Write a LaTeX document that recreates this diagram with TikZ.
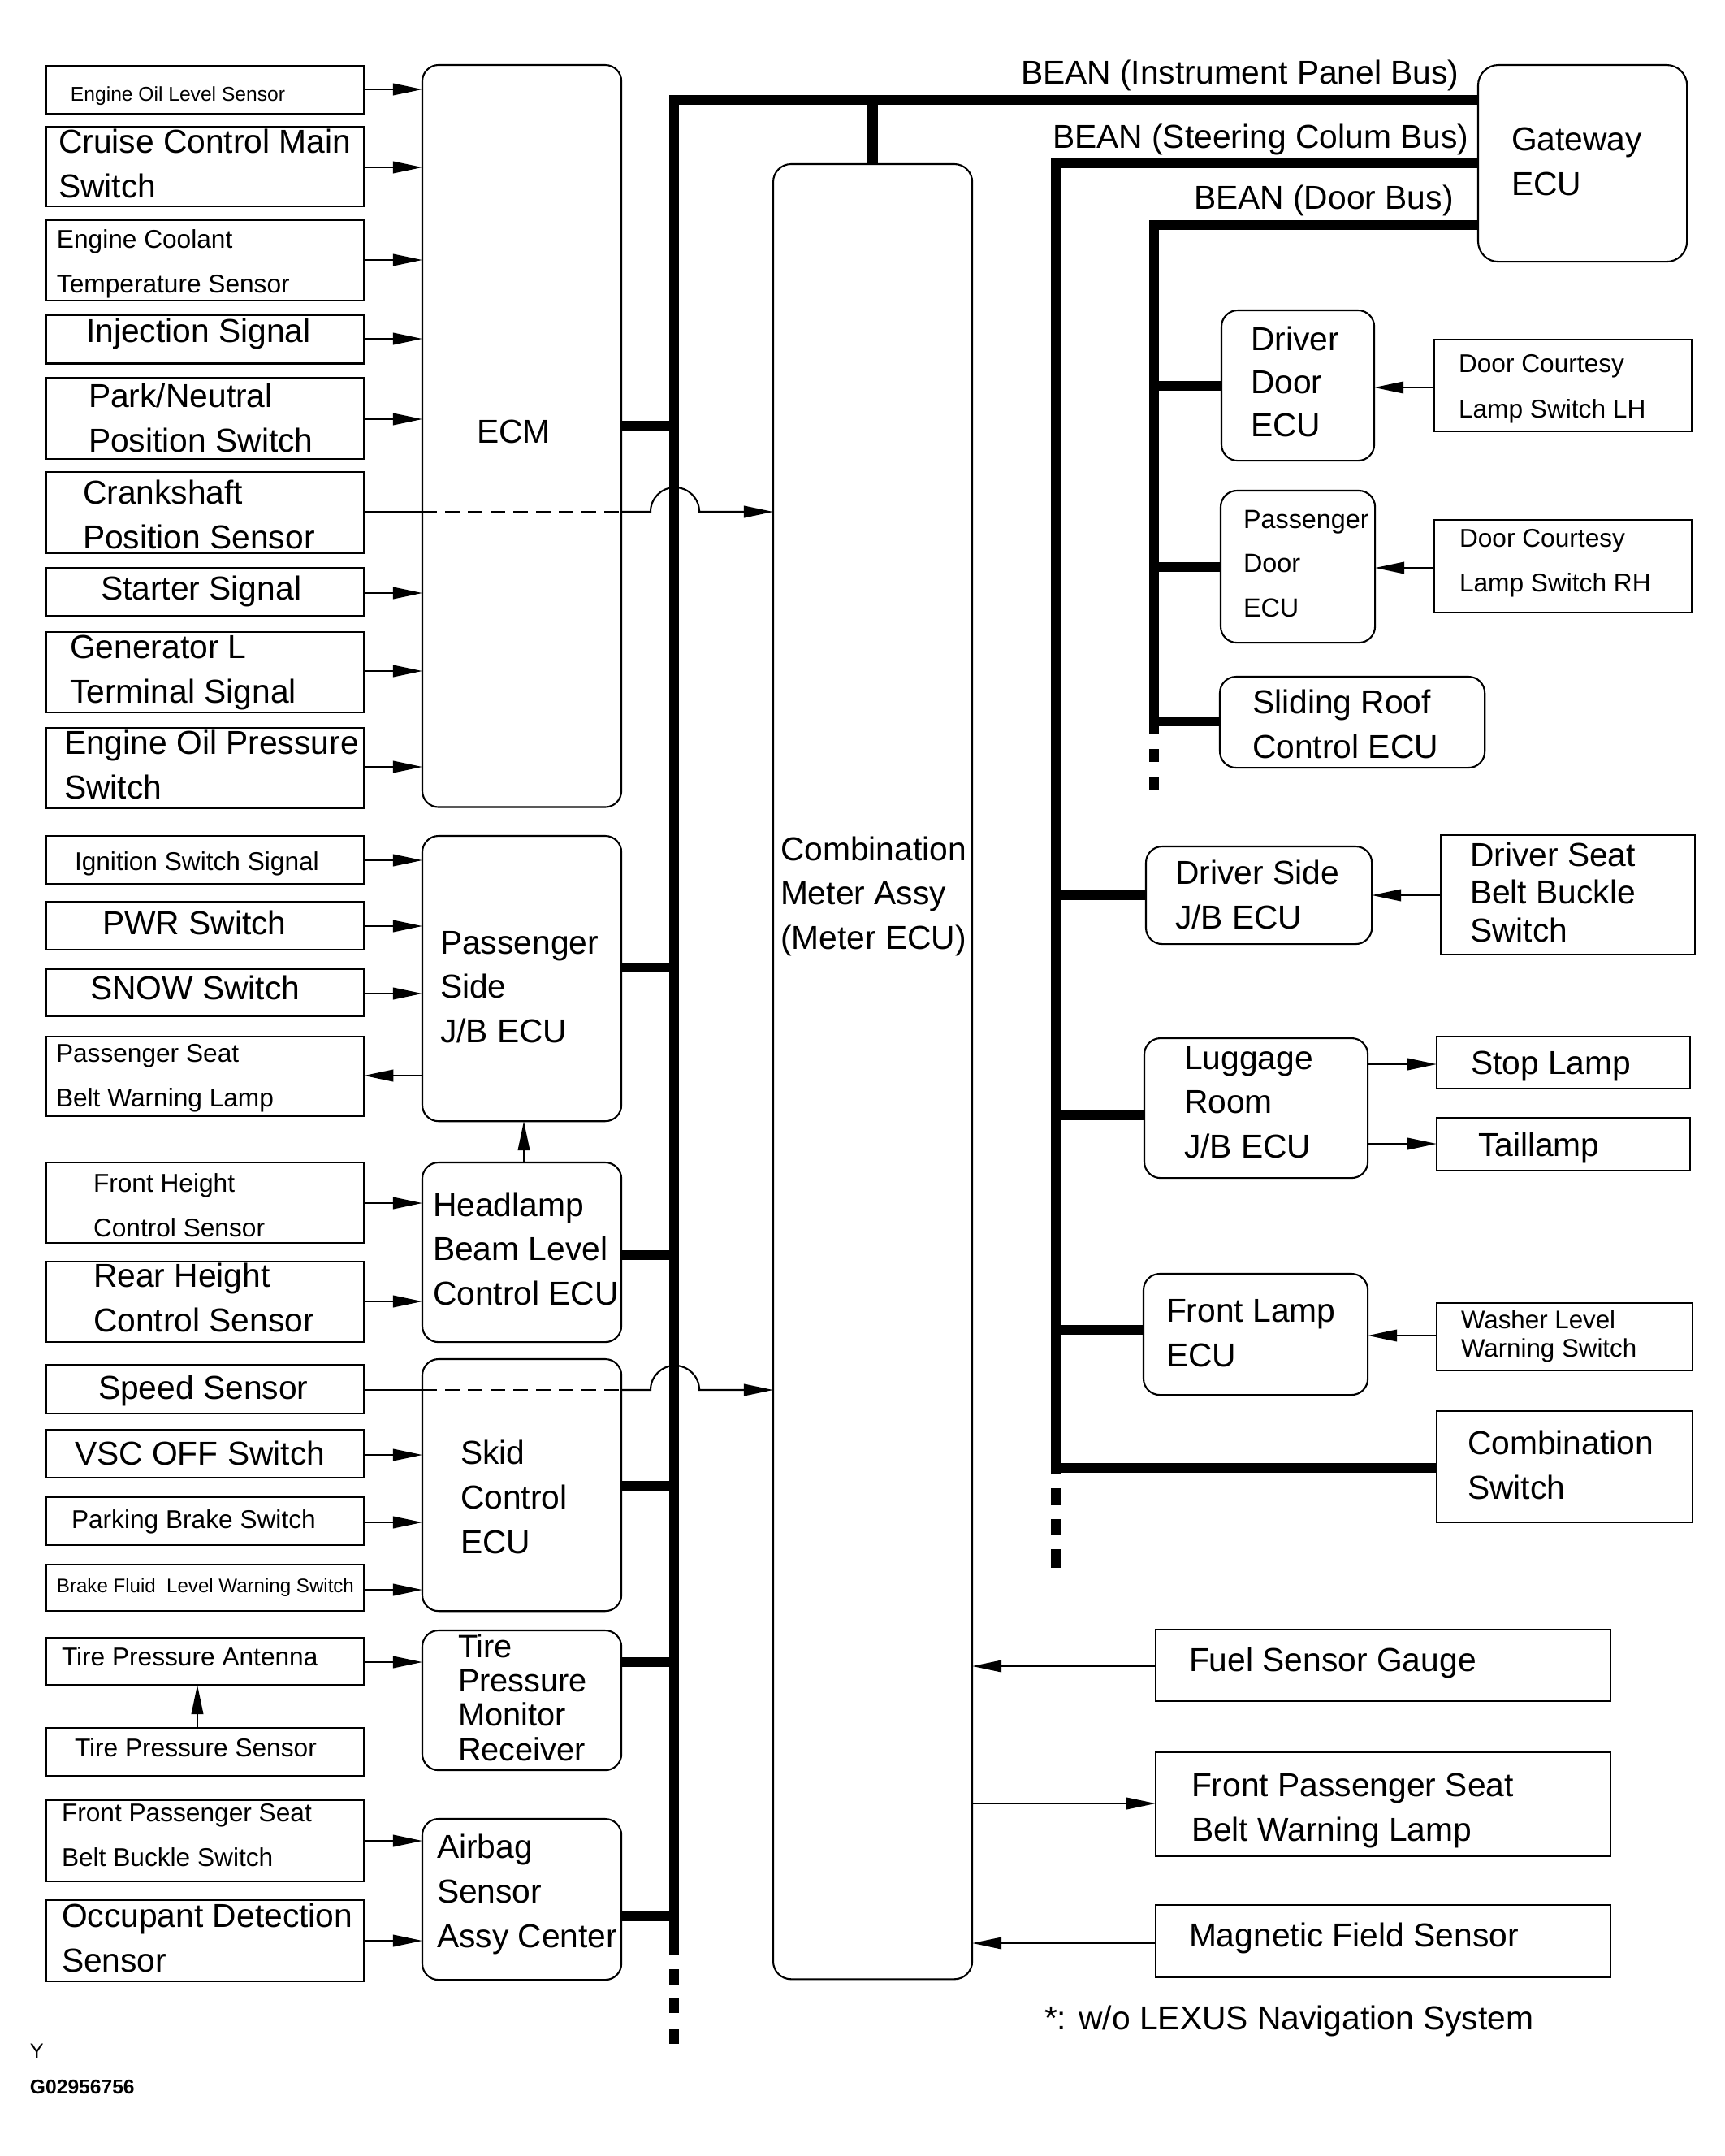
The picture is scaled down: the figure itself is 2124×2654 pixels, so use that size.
\documentclass[tikz,border=0pt]{standalone}
\usepackage{fontspec}
\setmainfont{Liberation Sans}
\usetikzlibrary{arrows.meta}
\begin{document}
\begin{tikzpicture}[x=0.01cm,y=-0.01cm,
  every node/.style={inner sep=0pt, outer sep=0pt},
  sbox/.style={draw, line width=0.6pt, anchor=north west, rectangle},
  rbox/.style={sbox, rounded corners=0.2cm},
  tx/.style={anchor=base west, align=left},
  big/.style={font=\fontsize{11.6}{15.4}\selectfont},
  sm/.style={font=\fontsize{9}{15.4}\selectfont},
  sig/.style={line width=0.6pt, -{Triangle[length=0.36cm,width=0.145cm]}},
  wire/.style={line width=0.6pt},
  dwire/.style={line width=0.6pt, dash pattern=on 0.18cm off 0.1cm},
  bus/.style={line width=0.125cm},
]
\useasboundingbox (0,0) rectangle (2124,2654);
\fill[white] (0,0) rectangle (2124,2654);

% ---------- left column boxes ----------
\node[sbox, minimum width=3.91cm, minimum height=0.59cm] (eol) at (57,81) {};
\node[sbox, minimum width=3.91cm, minimum height=0.98cm] (ccm) at (57,156) {};
\node[sbox, minimum width=3.91cm, minimum height=0.99cm] (ect) at (57,271) {};
\node[sbox, minimum width=3.91cm, minimum height=0.595cm] (inj) at (57,388) {};
\node[sbox, minimum width=3.91cm, minimum height=1.00cm] (pn) at (57,465) {};
\node[sbox, minimum width=3.91cm, minimum height=1.00cm] (cks) at (57,581) {};
\node[sbox, minimum width=3.91cm, minimum height=0.59cm] (sts) at (57,699) {};
\node[sbox, minimum width=3.91cm, minimum height=0.99cm] (gen) at (57,778) {};
\node[sbox, minimum width=3.91cm, minimum height=0.99cm] (eop) at (57,896) {};
\node[sbox, minimum width=3.91cm, minimum height=0.59cm] (ign) at (57,1029) {};
\node[sbox, minimum width=3.91cm, minimum height=0.59cm] (pwr) at (57,1110) {};
\node[sbox, minimum width=3.91cm, minimum height=0.58cm] (snow) at (57,1193) {};
\node[sbox, minimum width=3.91cm, minimum height=0.98cm] (psb) at (57,1276) {};
\node[sbox, minimum width=3.91cm, minimum height=0.99cm] (fh) at (57,1431) {};
\node[sbox, minimum width=3.91cm, minimum height=0.99cm] (rh) at (57,1553) {};
\node[sbox, minimum width=3.91cm, minimum height=0.60cm] (spd) at (57,1680) {};
\node[sbox, minimum width=3.91cm, minimum height=0.59cm] (vsc) at (57,1760) {};
\node[sbox, minimum width=3.91cm, minimum height=0.59cm] (pkb) at (57,1843) {};
\node[sbox, minimum width=3.91cm, minimum height=0.57cm] (bfl) at (57,1926) {};
\node[sbox, minimum width=3.91cm, minimum height=0.58cm] (tpa) at (57,2016) {};
\node[sbox, minimum width=3.91cm, minimum height=0.59cm] (tps) at (57,2127) {};
\node[sbox, minimum width=3.91cm, minimum height=1.00cm] (fps) at (57,2216) {};
\node[sbox, minimum width=3.91cm, minimum height=1.00cm] (ods) at (57,2339) {};

% (multi-line texts are placed by the baseline of their last line)
\node[tx,font=\fontsize{7}{9}\selectfont] (eol-t) at (87,124) {Engine Oil Level Sensor};
\node[tx,big] (ccm-t) at (72,243) {Cruise Control Main\\Switch};
\node[tx,sm] (ect-t) at (70,360) {Engine Coolant\\Temperature Sensor};
\node[tx,big] (inj-t) at (106,421) {Injection Signal};
\node[tx,big] (pn-t) at (109,556) {Park/Neutral\\Position Switch};
\node[tx,big] (cks-t) at (102,675) {Crankshaft\\Position Sensor};
\node[tx,big] (sts-t) at (124,738) {Starter Signal};
\node[tx,big] (gen-t) at (86,865) {Generator L\\Terminal Signal};
\node[tx,big] (eop-t) at (79,983) {Engine Oil Pressure\\Switch};
\node[tx,sm] (ign-t) at (92,1071) {Ignition Switch Signal};
\node[tx,big] (pwr-t) at (126,1150) {PWR Switch};
\node[tx,big] (snow-t) at (111,1230) {SNOW Switch};
\node[tx,sm] (psb-t) at (69,1362) {Passenger Seat\\Belt Warning Lamp};
\node[tx,sm] (fh-t) at (115,1522) {Front Height\\Control Sensor};
\node[tx,big] (rh-t) at (115,1639) {Rear Height\\Control Sensor};
\node[tx,big] (spd-t) at (121,1722) {Speed Sensor};
\node[tx,big] (vsc-t) at (92,1803) {VSC OFF Switch};
\node[tx,sm] (pkb-t) at (88,1881) {Parking Brake Switch};
\node[tx,font=\fontsize{6.85}{9}\selectfont] (bfl-t) at (70,1960) {Brake Fluid\ \ Level Warning Switch};
\node[tx,sm] (tpa-t) at (76,2050) {Tire Pressure Antenna};
\node[tx,sm] (tps-t) at (92,2162) {Tire Pressure Sensor};
\node[tx,sm] (fps-t) at (76,2297) {Front Passenger Seat\\Belt Buckle Switch};
\node[tx,big] (ods-t) at (76,2427) {Occupant Detection\\Sensor};

% ---------- left ECUs ----------
\node[rbox, minimum width=2.45cm, minimum height=9.13cm] (ecm) at (520,80) {};
\node[rbox, minimum width=2.45cm, minimum height=3.51cm] (psj) at (520,1029) {};
\node[rbox, minimum width=2.45cm, minimum height=2.21cm] (hl) at (520,1431) {};
\node[rbox, minimum width=2.45cm, minimum height=3.10cm] (skid) at (520,1673) {};
\node[rbox, minimum width=2.45cm, minimum height=1.72cm] (tpm) at (520,2007) {};
\node[rbox, minimum width=2.45cm, minimum height=1.98cm] (air) at (520,2239) {};
\node[rbox, rounded corners=0.22cm, minimum width=2.45cm, minimum height=22.33cm] (meter) at (952,202) {};

\node[tx,big] (ecm-t) at (587,545) {ECM};
\node[tx,big] (psj-t) at (542,1283) {Passenger\\Side\\J/B ECU};
\node[tx,big] (hl-t) at (533,1606) {Headlamp\\Beam Level\\Control ECU};
\node[tx,font=\fontsize{11.6}{15.6}\selectfont] (skid-t) at (567,1912) {Skid\\Control\\ECU};
\node[tx,font=\fontsize{11.3}{12}\selectfont] (tpm-t) at (564,2167) {Tire\\Pressure\\Monitor\\Receiver};
\node[tx,font=\fontsize{11.6}{15.6}\selectfont] (air-t) at (538,2397) {Airbag\\Sensor\\Assy Center};
\node[tx,big] (meter-t) at (961,1168) {Combination\\Meter Assy\\(Meter ECU)};

% ---------- right side ----------
\node[rbox, rounded corners=0.25cm, minimum width=2.57cm, minimum height=2.42cm] (gw) at (1820,80) {};
\node[rbox, minimum width=1.88cm, minimum height=1.85cm] (dd) at (1504,382) {};
\node[sbox, minimum width=3.17cm, minimum height=1.13cm] (dcl) at (1766,418) {};
\node[rbox, minimum width=1.90cm, minimum height=1.87cm] (pd) at (1503,604) {};
\node[sbox, minimum width=3.17cm, minimum height=1.14cm] (dcr) at (1766,640) {};
\node[rbox, minimum width=3.26cm, minimum height=1.12cm] (sr) at (1502,833) {};
\node[rbox, minimum width=2.78cm, minimum height=1.20cm] (dsj) at (1411,1042) {};
\node[sbox, minimum width=3.13cm, minimum height=1.47cm] (dsb) at (1774,1028) {};
\node[rbox, minimum width=2.75cm, minimum height=1.72cm] (lug) at (1409,1278) {};
\node[sbox, minimum width=3.12cm, minimum height=0.64cm] (stp) at (1769,1276) {};
\node[sbox, minimum width=3.12cm, minimum height=0.65cm] (tail) at (1769,1376) {};
\node[rbox, minimum width=2.76cm, minimum height=1.49cm] (fl) at (1408,1568) {};
\node[sbox, minimum width=3.15cm, minimum height=0.83cm] (wl) at (1769,1604) {};
\node[sbox, minimum width=3.15cm, minimum height=1.37cm] (cs) at (1769,1737) {};
\node[sbox, minimum width=5.60cm, minimum height=0.88cm] (fsg) at (1423,2006) {};
\node[sbox, minimum width=5.60cm, minimum height=1.28cm] (fpw) at (1423,2157) {};
\node[sbox, minimum width=5.60cm, minimum height=0.89cm] (mfs) at (1423,2345) {};

\node[tx,big] (gw-t) at (1861,240) {Gateway\\ECU};
\node[tx,font=\fontsize{11.6}{15}\selectfont] (dd-t) at (1540,537) {Driver\\Door\\ECU};
\node[tx,font=\fontsize{9}{15.9}\selectfont] (dcl-t) at (1796,514) {Door Courtesy\\Lamp Switch LH};
\node[tx,font=\fontsize{9.2}{15.4}\selectfont] (pd-t) at (1531,759) {Passenger\\Door\\ECU};
\node[tx,font=\fontsize{9}{15.6}\selectfont] (dcr-t) at (1797,728) {Door Courtesy\\Lamp Switch RH};
\node[tx,font=\fontsize{11.6}{15.6}\selectfont] (sr-t) at (1542,933) {Sliding Roof\\Control ECU};
\node[tx,big] (dsj-t) at (1447,1143) {Driver Side\\J/B ECU};
\node[tx,font=\fontsize{11.6}{13.1}\selectfont] (dsb-t) at (1810,1159) {Driver Seat\\Belt Buckle\\Switch};
\node[tx,big] (lug-t) at (1458,1425) {Luggage\\Room\\J/B ECU};
\node[tx,big] (stp-t) at (1811,1322) {Stop Lamp};
\node[tx,big] (tail-t) at (1820,1423) {Taillamp};
\node[tx,font=\fontsize{11.6}{15.6}\selectfont] (fl-t) at (1436,1682) {Front Lamp\\ECU};
\node[tx,font=\fontsize{8.9}{9.7}\selectfont] (wl-t) at (1799,1670) {Washer Level\\Warning Switch};
\node[tx,big] (cs-t) at (1807,1845) {Combination\\Switch};
\node[tx,big] (fsg-t) at (1464,2057) {Fuel Sensor Gauge};
\node[tx,font=\fontsize{11.6}{15.6}\selectfont] (fpw-t) at (1467,2266) {Front Passenger Seat\\Belt Warning Lamp};
\node[tx,big] (mfs-t) at (1464,2396) {Magnetic Field Sensor};

\node[tx,big] (ipb-t) at (1257,103) {BEAN (Instrument Panel Bus)};
\node[tx,big] (scb-t) at (1296,182) {BEAN (Steering Colum Bus)};
\node[tx,big] (db-t) at (1470,257) {BEAN (Door Bus)};
\node[tx,big] (note-t) at (1286,2498) {*: w/o LEXUS Navigation System};
\node[tx,font=\fontsize{7.2}{9}\selectfont] (y-t) at (37,2533) {Y};
\node[tx,font=\fontsize{7}{9}\selectfont\bfseries] (g-t) at (37,2577) {G02956756};

% ---------- buses ----------
\draw[bus] (830,2406) |- (gw.west |- 0,123);
\draw[bus] (830,2424) -- (830,2444) (830,2460) -- (830,2478) (830,2498) -- (830,2516);
\draw[bus] (1300,1815) |- (gw.west |- 0,201);
\draw[bus] (1300,1832) -- (1300,1853) (1300,1870) -- (1300,1890) (1300,1907) -- (1300,1930);
\draw[bus] (1421,903) |- (gw.west |- 0,277);
\draw[bus] (1421,922) -- (1421,938) (1421,957) -- (1421,973);
\draw[bus] (meter.north) -- (meter.north |- 0,123);

\draw[bus] (ecm.east |- 0,524) -- (830,524);
\draw[bus] (psj.east |- 0,1191) -- (830,1191);
\draw[bus] (hl.east |- 0,1545) -- (830,1545);
\draw[bus] (skid.east |- 0,1829) -- (830,1829);
\draw[bus] (tpm.east |- 0,2046) -- (830,2046);
\draw[bus] (air.east |- 0,2359) -- (830,2359);

\draw[bus] (1421,475) -- (dd.west |- 0,475);
\draw[bus] (1421,698) -- (pd.west |- 0,698);
\draw[bus] (1421,888) -- (sr.west |- 0,888);
\draw[bus] (1300,1102) -- (dsj.west |- 0,1102);
\draw[bus] (1300,1373) -- (lug.west |- 0,1373);
\draw[bus] (1300,1637) -- (fl.west |- 0,1637);
\draw[bus] (1300,1807) -- (cs.west |- 0,1807);

% ---------- signals to ECM ----------
\draw[sig] (eol.east |- 0,110) -- (ecm.west |- 0,110);
\draw[sig] (ccm.east |- 0,206) -- (ecm.west |- 0,206);
\draw[sig] (ect.east |- 0,320) -- (ecm.west |- 0,320);
\draw[sig] (inj.east |- 0,417) -- (ecm.west |- 0,417);
\draw[sig] (pn.east |- 0,516) -- (ecm.west |- 0,516);
\draw[sig] (sts.east |- 0,730) -- (ecm.west |- 0,730);
\draw[sig] (gen.east |- 0,826) -- (ecm.west |- 0,826);
\draw[sig] (eop.east |- 0,944) -- (ecm.west |- 0,944);

% crankshaft signal through ECM, hopping over bus
\draw[wire] (cks.east |- 0,630) -- (ecm.west |- 0,630);
\draw[dwire] (ecm.west |- 0,630) -- (ecm.east |- 0,630);
\draw[sig] (ecm.east |- 0,630) -- (801,630) arc[start angle=180,end angle=0,radius=0.3cm] -- (meter.west |- 0,630);

% passenger side J/B
\draw[sig] (ign.east |- 0,1059) -- (psj.west |- 0,1059);
\draw[sig] (pwr.east |- 0,1140) -- (psj.west |- 0,1140);
\draw[sig] (snow.east |- 0,1223) -- (psj.west |- 0,1223);
\draw[sig] (psj.west |- 0,1324) -- (psb.east |- 0,1324);
% headlamp
\draw[sig] (fh.east |- 0,1481) -- (hl.west |- 0,1481);
\draw[sig] (rh.east |- 0,1602) -- (hl.west |- 0,1602);
\draw[sig] (hl.north -| 645,0) -- (psj.south -| 645,0);
% speed sensor through skid
\draw[wire] (spd.east |- 0,1711) -- (skid.west |- 0,1711);
\draw[dwire] (skid.west |- 0,1711) -- (skid.east |- 0,1711);
\draw[sig] (skid.east |- 0,1711) -- (801,1711) arc[start angle=180,end angle=0,radius=0.3cm] -- (meter.west |- 0,1711);
% skid
\draw[sig] (vsc.east |- 0,1791) -- (skid.west |- 0,1791);
\draw[sig] (pkb.east |- 0,1874) -- (skid.west |- 0,1874);
\draw[sig] (bfl.east |- 0,1957) -- (skid.west |- 0,1957);
% tire pressure
\draw[sig] (tpa.east |- 0,2046) -- (tpm.west |- 0,2046);
\draw[sig] (tps.north -| 243,0) -- (tpa.south -| 243,0);
% airbag
\draw[sig] (fps.east |- 0,2266) -- (air.west |- 0,2266);
\draw[sig] (ods.east |- 0,2389) -- (air.west |- 0,2389);

% right side signals
\draw[sig] (dcl.west |- 0,477) -- (dd.east |- 0,477);
\draw[sig] (dcr.west |- 0,699) -- (pd.east |- 0,699);
\draw[sig] (dsb.west |- 0,1102) -- (dsj.east |- 0,1102);
\draw[sig] (lug.east |- 0,1310) -- (stp.west |- 0,1310);
\draw[sig] (lug.east |- 0,1408) -- (tail.west |- 0,1408);
\draw[sig] (wl.west |- 0,1644) -- (fl.east |- 0,1644);
\draw[sig] (fsg.west |- 0,2051) -- (meter.east |- 0,2051);
\draw[sig] (meter.east |- 0,2220) -- (fpw.west |- 0,2220);
\draw[sig] (mfs.west |- 0,2392) -- (meter.east |- 0,2392);
\end{tikzpicture}
\end{document}
